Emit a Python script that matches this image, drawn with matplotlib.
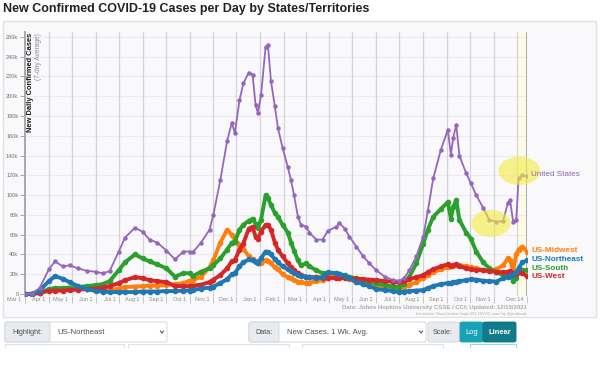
import numpy as np
import pandas as pd
import matplotlib
matplotlib.use("Agg")
import matplotlib.pyplot as plt
import matplotlib.dates as mdates
import matplotlib.transforms as mtrans
from matplotlib.patches import Rectangle, FancyBboxPatch, Ellipse
from matplotlib.lines import Line2D

plt.rcParams['font.family'] = ['Liberation Sans', 'DejaVu Sans']

# ------------------------------------
# Data (7-day average, thousands of cases)
# ------------------------------------
dates = [
    "2020-03-01", "2020-03-10", "2020-03-20", "2020-04-01", "2020-04-09", "2020-04-19",
    "2020-04-28", "2020-05-09", "2020-05-20", "2020-06-01", "2020-06-10", "2020-06-19",
    "2020-07-01", "2020-07-09", "2020-07-22", "2020-08-01", "2020-08-10", "2020-08-20",
    "2020-09-01", "2020-09-12", "2020-09-23", "2020-10-01", "2020-10-05", "2020-10-16",
    "2020-10-27", "2020-11-01", "2020-11-10", "2020-11-19", "2020-11-25", "2020-11-29",
    "2020-12-05", "2020-12-10", "2020-12-17", "2020-12-22", "2020-12-26", "2020-12-29",
    "2021-01-02", "2021-01-08", "2021-01-11", "2021-01-15", "2021-01-20", "2021-01-24",
    "2021-01-30", "2021-02-06", "2021-02-10", "2021-02-14", "2021-02-19", "2021-02-23",
    "2021-03-02", "2021-03-06", "2021-03-15", "2021-03-23", "2021-03-30", "2021-04-10",
    "2021-04-14", "2021-04-21", "2021-04-27", "2021-05-06", "2021-05-15", "2021-05-23",
    "2021-06-01", "2021-06-12", "2021-06-23", "2021-07-01", "2021-07-07", "2021-07-14",
    "2021-07-23", "2021-08-01", "2021-08-07", "2021-08-14", "2021-08-24", "2021-09-02",
    "2021-09-06", "2021-09-09", "2021-09-13", "2021-09-17", "2021-09-26", "2021-10-02",
    "2021-10-09", "2021-10-18", "2021-10-26", "2021-11-04", "2021-11-13", "2021-11-19",
    "2021-11-22", "2021-11-26", "2021-11-30", "2021-12-03", "2021-12-08", "2021-12-14",
]

united_states = [
    0, 0.5, 6, 25, 33, 28, 29, 26, 23.5, 22.5, 21, 23,
    43, 57, 67, 63, 55, 52, 44, 35, 43, 43, 42, 52,
    65, 80, 115, 155, 173, 163, 196, 213, 224, 222, 191, 183,
    201, 250, 252, 215, 190, 168, 148, 128, 115, 100, 78, 70,
    68, 62, 55, 55, 64, 68, 72, 66, 58, 48, 38, 31,
    24, 17.5, 14, 13.5, 16, 24, 38, 58, 84, 117, 146, 166,
    141, 158, 171, 140, 122, 112, 100, 87, 75, 73, 74, 92,
    95, 73, 75, 117, 120, 119,
]

us_northeast = [
    0, 0.2, 3.5, 13, 18, 15.5, 12, 8, 5, 3, 2.5, 2,
    2, 2, 2, 2.5, 2.5, 2.5, 3, 3, 3.5, 3.5, 4, 5.5,
    6.5, 7.5, 11, 15, 20, 21, 28, 32, 35, 34, 32, 31,
    36, 43, 42, 40, 35, 32, 28, 25, 23, 21, 19, 18,
    17.5, 17, 16, 17, 22, 21, 20, 18.5, 16, 12, 10, 8,
    5, 4, 3, 2, 2.5, 3, 3.5, 4, 6, 8, 10, 11,
    11, 12, 12.5, 13, 14, 15, 14.5, 13.5, 13, 12.5, 16, 17,
    19, 19, 22, 26, 32, 34,
]

us_midwest = [
    0, 0.1, 1, 4, 4.5, 4.5, 5, 5, 5, 4.5, 4, 4,
    5.5, 7, 7.5, 8, 8.5, 8.5, 9, 10, 11, 13.5, 14, 17.5,
    27, 34, 52, 65, 60, 55, 50, 46, 38, 35, 33, 31,
    31, 34, 33, 31, 27, 25, 20, 17, 16, 14, 12.5, 12,
    11, 11.5, 13, 14, 16, 19, 20, 18.5, 15, 12.5, 10.5, 9,
    7.5, 7, 6.5, 6, 7, 9, 12, 16, 19, 22, 25, 27,
    28, 28.5, 29, 29, 28, 27, 26, 24, 24, 25, 29, 36,
    34, 24, 40, 45, 48, 43,
]

us_south = [
    0, 0.1, 1, 5, 6, 6, 6.5, 7, 8, 9, 10, 13,
    24, 32, 40, 36, 33, 30, 26, 17.5, 21, 21, 18, 22.5,
    26, 29, 36, 45, 52, 53, 65, 70, 74, 76, 71, 67,
    75, 100, 97, 90, 82, 78, 70, 62, 52, 44, 34, 29,
    31, 28, 24, 21, 21, 21, 20, 19, 17, 16, 14, 12.5,
    11, 9, 7.5, 7.5, 10, 17.5, 31, 51, 65, 78, 86, 93,
    76, 88, 95, 75, 62, 56, 43, 32, 26, 22, 19, 19,
    19, 13.5, 16, 22.5, 24, 24,
]

us_west = [
    0, 0.2, 1.5, 3, 3.5, 3.5, 4, 4.5, 5, 5.5, 6.5, 8,
    11, 14, 17, 16, 14, 13, 12, 8, 8, 8, 8.5, 9.5,
    12, 14.5, 19, 26, 33, 34, 45, 51, 66, 68, 58, 56,
    63, 70, 70, 65, 52, 45, 38, 31, 27, 24, 21, 19,
    17.5, 17, 17, 16.5, 16.5, 16, 16, 16, 16, 15.5, 15, 14.5,
    14, 13, 12.5, 12, 13, 15, 17, 19, 22, 25, 28, 30,
    28, 29, 30, 28, 26, 25, 24.5, 24, 23, 22.5, 22, 22.5,
    23, 21, 20, 22, 21, 18,
]

series_names = ["US-Midwest", "US-South", "US-West", "US-Northeast", "United States"]
series_values = [us_midwest, us_south, us_west, us_northeast, united_states]
series_colors = ["#ff7f0e", "#2ca02c", "#d62728", "#1f77b4", "#9467bd"]

y_ticks = list(range(0, 260001, 20000))
y_tick_labels = ["0"] + [f"{v // 1000}k" for v in y_ticks[1:]]

# ------------------------------------
# Figure helpers (pixel -> figure fraction)
# ------------------------------------
W, H = 600, 386
fig = plt.figure(figsize=(6, 3.86), dpi=100)
fig.patch.set_facecolor("white")


def fx(px):
    return px / W


def fy(py):
    return 1 - py / H


def fig_box(x0, x1, y0, y1, fc, ec="#ced4da", lw=0.6):
    fig.patches.append(FancyBboxPatch(
        (fx(x0), fy(y1)), fx(x1) - fx(x0), fy(y0) - fy(y1),
        boxstyle="round,pad=0,rounding_size=0.004",
        transform=fig.transFigure, facecolor=fc, edgecolor=ec, lw=lw))


# chart panel (behind the axes)
fig.patches.append(Rectangle((fx(3), fy(317)), fx(596) - fx(3), fy(21) - fy(317),
                             transform=fig.transFigure, facecolor="#f9f9fb",
                             edgecolor="#e1e1e5", lw=1.0, zorder=-5))

fig.text(fx(3), fy(9), "New Confirmed COVID-19 Cases per Day by States/Territories",
         fontsize=9.0, fontweight="bold", color="#222222", va="center", ha="left")

# ------------------------------------
# Main axes
# ------------------------------------
ax = fig.add_axes([fx(25), fy(296), fx(527) - fx(25), fy(32) - fy(296)])
ax.set_facecolor("none")
ax.set_zorder(2)

d = pd.to_datetime(dates)
start, end = pd.Timestamp("2020-03-01"), pd.Timestamp("2021-12-14")
ax.set_xlim(start, end)
ax.set_ylim(-2000, 265000)

month_starts = pd.date_range("2020-03-01", "2021-12-01", freq="MS")
for m in month_starts[1:]:
    ax.axvline(m, color="#d3d3d8", lw=0.9, zorder=0.5)
for v in y_ticks[1:]:
    ax.axhline(v, color="#eee9f0", lw=0.8, zorder=0.4)
ax.axvspan(pd.Timestamp("2021-12-01"), end, color="#fcfce6", zorder=0.3)
ax.axvline(end, color="#a3a3a3", lw=1.3, zorder=0.6)

for name, vals, col in zip(series_names, series_values, series_colors):
    vals = np.array(vals) * 1000
    if name == "United States":
        ax.plot(d, vals, color=col, lw=1.3, marker="o", ms=2.2, zorder=6)
    else:
        ax.plot(d, vals, color=col, lw=2.8, marker="o", ms=3.0, zorder=3,
                solid_capstyle="round")

# end labels
label_dy = {"United States": 1.0, "US-Midwest": 0.8, "US-Northeast": 0.8,
            "US-South": 1.6, "US-West": -0.3}
for name, vals, col in zip(series_names, series_values, series_colors):
    bold = name != "United States"
    ax.annotate(name, xy=(d[-1], vals[-1] * 1000), xytext=(3, label_dy[name]),
                textcoords="offset points", ha="left", va="center",
                fontsize=5.9, color=("#8668b3" if not bold else col),
                fontweight=("bold" if bold else "normal"),
                annotation_clip=False, zorder=9)

# highlight ellipses
for c, v, wd, ht in [("2021-10-28", 71400, 50.7, 27300), ("2021-12-04", 124600, 54.6, 28300)]:
    e = Ellipse((mdates.date2num(pd.Timestamp(c)), v), wd, ht, facecolor="#f4ec45",
                edgecolor="none", alpha=0.62, zorder=8, clip_on=False)
    ax.add_patch(e)

# axes styling
for s in ["top", "right", "bottom"]:
    ax.spines[s].set_visible(False)
ax.spines["left"].set_color("#a8a8a8")
ax.spines["left"].set_linewidth(1.4)

ax.set_yticks(y_ticks)
ax.set_yticklabels(y_tick_labels)
ax.tick_params(axis="y", labelsize=4.1, labelcolor="#6e6e6e", colors="#a8a8a8",
               length=3.5, width=0.7, pad=1.2)
ax.tick_params(axis="y", labelcolor="#6e6e6e")

x_ticks = list(month_starts[:-1]) + [end]
x_labels = [f"{t.strftime('%b')} {t.day}" for t in x_ticks]
ax.set_xticks(x_ticks)
ax.set_xticklabels(x_labels)
ax.tick_params(axis="x", labelsize=4.0, labelcolor="#8a8a8a", colors="#c4c4c4",
               length=5, width=0.7, pad=-4.2)
shift = mtrans.ScaledTranslation(-2.5 / 72, 0, fig.dpi_scale_trans)
for lab in ax.get_xticklabels():
    lab.set_horizontalalignment("right")
    lab.set_transform(lab.get_transform() + shift)
    lab.set_color("#8a8a8a")

fig.text(fx(30), fy(33), "New Daily Confirmed Cases", rotation=90, ha="center", va="top",
         fontsize=5.4, fontweight="bold", color="#1a1a1a", zorder=5)
fig.text(fx(38), fy(33), "(7-day Average)", rotation=90, ha="center", va="top",
         fontsize=4.8, color="#8c8c8c", zorder=5)

fig.text(fx(527), fy(308), "Data: Johns Hopkins University CSSE / CCI; Updated: 12/15/2021",
         ha="right", va="center", fontsize=4.3, color="#ababab", fontweight="bold")
fig.text(fx(527), fy(314), "Interactive Visualization: https://91-DIVOC.com/ by @profwade",
         ha="right", va="center", fontsize=2.9, color="#ababab")

# ------------------------------------
# Controls below chart
# ------------------------------------
ctl_text = "#495057"
fig_box(5, 167, 322, 342, "white")
fig_box(5, 50, 322, 342, "#e9ecef")
fig.text(fx(12), fy(332), "Highlight:", fontsize=5.2, color=ctl_text, va="center")
fig.text(fx(57), fy(332), "US-Northeast", fontsize=5.6, color=ctl_text, va="center")

fig_box(249, 426, 322, 342, "white")
fig_box(249, 279, 322, 342, "#e9ecef")
fig.text(fx(255), fy(332), "Data:", fontsize=5.2, color=ctl_text, va="center")
fig.text(fx(287), fy(332), "New Cases, 1 Wk. Avg.", fontsize=5.6, color=ctl_text, va="center")

for cx in [162, 421]:
    fig.lines.append(Line2D([fx(cx - 1.6), fx(cx), fx(cx + 1.6)], [fy(331), fy(333), fy(331)],
                            transform=fig.transFigure, color="#444444", lw=0.7))

fig_box(428, 460, 322, 342, "#e9ecef")
fig.text(fx(433), fy(332), "Scale:", fontsize=5.2, color=ctl_text, va="center")
fig_box(460, 483, 322, 342, "#17a2b8", ec="#17a2b8")
fig_box(483, 516, 322, 342, "#117a8b", ec="#10707f")
fig.text(fx(471.5), fy(332), "Log", fontsize=5.4, color="white", ha="center", va="center")
fig.text(fx(499.5), fy(332), "Linear", fontsize=5.4, color="white", ha="center", va="center",
         fontweight="bold")

# second row of controls (cut off at the bottom of the screenshot)
for x0, x1, col in [(5, 124, "#dee2e6"), (128, 289, "#dee2e6"), (302, 443, "#dee2e6"),
                    (470, 516, "#9fd9e2")]:
    fig.lines.append(Line2D([fx(x0), fx(x0), fx(x1), fx(x1)],
                            [fy(346.5), fy(344), fy(344), fy(346.5)],
                            transform=fig.transFigure, color=col, lw=0.8))

fig.savefig("out.png", dpi=100, facecolor="white")
